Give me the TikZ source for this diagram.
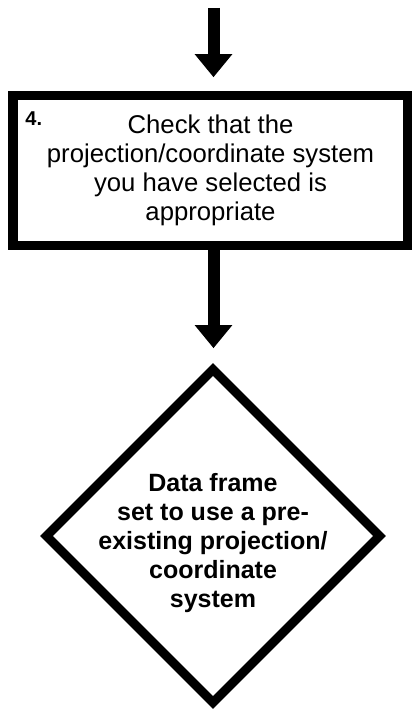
\documentclass[tikz,border=0pt]{standalone}
\usepackage{fontspec}
\setmainfont{Liberation Sans}
\usetikzlibrary{positioning,shapes.geometric,arrows.meta}
\tikzset{
  stepbox/.style={draw=black, line width=9.5pt, minimum width=395pt, minimum height=150pt, align=center, inner sep=0pt, font=\fontsize{25.7}{29}\selectfont},
  stepnum/.style={inner sep=0pt, font=\bfseries\fontsize{20}{22}\selectfont},
  decision/.style={draw=black, diamond, line width=9pt, minimum width=336.6pt, minimum height=336.6pt, inner sep=0pt},
  dtext/.style={inner sep=0pt, align=center, yshift=-7pt, font=\bfseries\fontsize{25}{29}\selectfont},
  flow/.style={line width=12pt, -{Triangle[width=36pt,length=23pt]}}
}

\begin{document}
\begin{tikzpicture}[x=1pt,y=-1pt]
  \useasboundingbox (0,0) rectangle (412,709);
  \coordinate (in) at (213.5,8);
  \node[stepbox] (check) at (210.5,170.5) {Check that the\\projection/coordinate system\\you have selected is\\appropriate};
  \node[stepnum, anchor=north west] (num) at ([xshift=17pt,yshift=-21pt]check.north west) {4.};
  \node[decision, label={[dtext]center:{Data frame\\set to use a pre-\\existing projection/\\coordinate\\system}}] (dataframe) at (213,536) {};
  \draw[flow, shorten >=13.5pt] (in) -- (in |- check.north);
  \draw[flow, shorten >=15pt] (in |- check.south) -- (in |- dataframe.north);
\end{tikzpicture}
\end{document}
